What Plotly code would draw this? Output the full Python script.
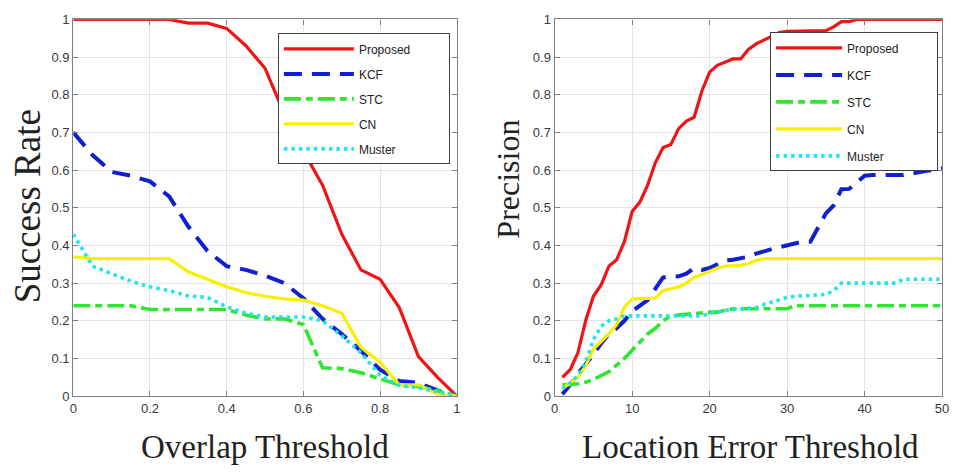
import plotly.graph_objects as go

# ---------------- data ----------------
series_names = ["Proposed", "KCF", "STC", "CN", "Muster"]

overlap_x = [0, 0.05, 0.1, 0.15, 0.2, 0.25, 0.3, 0.35, 0.4, 0.45, 0.5,
             0.55, 0.6, 0.65, 0.7, 0.75, 0.8, 0.85, 0.9, 0.95, 1.0]
sr_proposed = [1, 1, 1, 1, 1, 1, 0.99, 0.99, 0.976, 0.93, 0.87,
               0.75, 0.65, 0.56, 0.43, 0.335, 0.31, 0.235, 0.105, 0.05, 0]
sr_kcf = [0.70, 0.64, 0.595, 0.585, 0.57, 0.53, 0.45, 0.385, 0.345, 0.335, 0.32,
          0.30, 0.26, 0.205, 0.165, 0.12, 0.07, 0.04, 0.035, 0.015, 0]
sr_stc = [0.24, 0.24, 0.24, 0.24, 0.23, 0.23, 0.23, 0.23, 0.23, 0.215, 0.205,
          0.205, 0.19, 0.075, 0.073, 0.062, 0.045, 0.03, 0.025, 0.015, 0]
sr_cn = [0.37, 0.365, 0.365, 0.365, 0.365, 0.365, 0.33, 0.31, 0.29, 0.275, 0.265,
         0.258, 0.255, 0.24, 0.22, 0.13, 0.09, 0.03, 0.03, 0.005, 0]
sr_muster = [0.43, 0.345, 0.325, 0.305, 0.29, 0.28, 0.266, 0.262, 0.237, 0.22, 0.21,
             0.21, 0.21, 0.2, 0.16, 0.115, 0.055, 0.028, 0.022, 0.012, 0]

loc_x = list(range(1, 51))
pr_proposed = [0.05, 0.07, 0.115, 0.2, 0.265, 0.295, 0.345, 0.362, 0.41, 0.49,
               0.515, 0.56, 0.62, 0.66, 0.668, 0.71, 0.73, 0.74, 0.81, 0.86,
               0.878, 0.887, 0.895, 0.895, 0.92, 0.935, 0.945, 0.955, 0.965, 0.968,
               0.968, 0.968, 0.968, 0.968, 0.97, 0.98, 0.994, 0.994, 1, 1,
               1, 1, 1, 1, 1, 1, 1, 1, 1, 1]
pr_kcf = [0.005, 0.03, 0.06, 0.085, 0.11, 0.14, 0.165, 0.18, 0.2, 0.225,
          0.24, 0.255, 0.285, 0.315, 0.317, 0.318, 0.325, 0.34, 0.335, 0.34,
          0.35, 0.36, 0.362, 0.365, 0.37, 0.378, 0.385, 0.39, 0.395, 0.4,
          0.405, 0.41, 0.41, 0.45, 0.485, 0.506, 0.549, 0.55, 0.567, 0.585,
          0.587, 0.587, 0.587, 0.587, 0.587, 0.59, 0.595, 0.598, 0.6, 0.605]
pr_stc = [0.03, 0.03, 0.033, 0.037, 0.044, 0.055, 0.065, 0.082, 0.1, 0.122,
          0.145, 0.165, 0.18, 0.2, 0.213, 0.215, 0.218, 0.22, 0.222, 0.223,
          0.223, 0.228, 0.232, 0.232, 0.232, 0.232, 0.232, 0.232, 0.232, 0.232,
          0.24, 0.24, 0.24, 0.24, 0.24, 0.24, 0.24, 0.24, 0.24, 0.24,
          0.24, 0.24, 0.24, 0.24, 0.24, 0.24, 0.24, 0.24, 0.24, 0.24]
pr_cn = [0.02, 0.035, 0.05, 0.08, 0.125, 0.145, 0.165, 0.19, 0.236, 0.258,
         0.258, 0.258, 0.26, 0.28, 0.285, 0.29, 0.3, 0.315, 0.323, 0.332,
         0.34, 0.345, 0.346, 0.347, 0.352, 0.36, 0.365, 0.365, 0.365, 0.365,
         0.365, 0.365, 0.365, 0.365, 0.365, 0.365, 0.365, 0.365, 0.365, 0.365,
         0.365, 0.365, 0.365, 0.365, 0.365, 0.365, 0.365, 0.365, 0.365, 0.365]
pr_muster = [0.02, 0.035, 0.055, 0.09, 0.15, 0.185, 0.2, 0.205, 0.213, 0.213,
             0.213, 0.213, 0.213, 0.213, 0.213, 0.213, 0.213, 0.213, 0.213, 0.22,
             0.222, 0.228, 0.23, 0.232, 0.232, 0.235, 0.243, 0.25, 0.255, 0.262,
             0.265, 0.266, 0.267, 0.268, 0.27, 0.28, 0.3, 0.3, 0.3, 0.3,
             0.3, 0.3, 0.3, 0.3, 0.31, 0.31, 0.31, 0.31, 0.31, 0.31]

left_x_ticks = [0, 0.2, 0.4, 0.6, 0.8, 1]
left_x_ticklabels = ["0", "0.2", "0.4", "0.6", "0.8", "1"]
right_x_ticks = [0, 10, 20, 30, 40, 50]
y_ticks = [0, 0.1, 0.2, 0.3, 0.4, 0.5, 0.6, 0.7, 0.8, 0.9, 1]
y_ticklabels = ["0", "0.1", "0.2", "0.3", "0.4", "0.5", "0.6", "0.7", "0.8", "0.9", "1"]

# ---------------- layout helpers ----------------
W, H = 950, 459          # page body has an 8px margin -> 966x475 window
OFF = 8


def px(x):
    return (x - OFF) / W


def py(y):
    return 1 - (y - OFF) / H


styles = {
    "Proposed": dict(color="#f01414", width=3.2, dash="solid"),
    "KCF": dict(color="#1020d0", width=4, dash="18px,10px"),
    "STC": dict(color="#2fe62f", width=3.6, dash="17px,5px,7px,5px"),
    "CN": dict(color="#f8f000", width=3.2, dash="solid"),
    "Muster": dict(color="#22e4ee", width=3.6, dash="3.5px,4px"),
}
PAD = "\u00a0" * 10

fig = go.Figure()

left_data = [sr_proposed, sr_kcf, sr_stc, sr_cn, sr_muster]
right_data = [pr_proposed, pr_kcf, pr_stc, pr_cn, pr_muster]

for name, ys in zip(series_names, left_data):
    fig.add_trace(go.Scatter(x=overlap_x, y=ys, mode="lines", name=name + PAD,
                             line=styles[name], xaxis="x", yaxis="y",
                             legend="legend", legendgroup="L" + name))
for name, ys in zip(series_names, right_data):
    fig.add_trace(go.Scatter(x=loc_x, y=ys, mode="lines", name=name + PAD,
                             line=styles[name], xaxis="x2", yaxis="y2",
                             legend="legend2", legendgroup="R" + name))

axis_common = dict(
    showline=True, linecolor="#808080", linewidth=1.3, mirror="ticks",
    ticks="inside", ticklen=5, tickcolor="#808080", tickwidth=1,
    showgrid=True, gridcolor="#e4e4e4", gridwidth=1, zeroline=False,
    ticklabeloverflow="allow",
    tickfont=dict(family="Liberation Sans, Arial, sans-serif", size=13, color="#3a3a3a"),
)

ydom = [py(402), py(12.5)]
legend_font = dict(family="Liberation Sans, Arial, sans-serif", size=12, color="#222")
fig.update_layout(
    width=W, height=H,
    margin=dict(l=0, r=0, t=0, b=0),
    paper_bgcolor="white", plot_bgcolor="white",
    xaxis=dict(domain=[px(70), px(458)], range=[0, 1], tickvals=left_x_ticks,
               ticktext=left_x_ticklabels, anchor="y", **axis_common),
    yaxis=dict(domain=ydom, range=[0, 1], tickvals=y_ticks, ticktext=y_ticklabels,
               anchor="x", **axis_common),
    xaxis2=dict(domain=[px(557), px(949)], range=[0, 50], tickvals=right_x_ticks,
                anchor="y2", **axis_common),
    yaxis2=dict(domain=ydom, range=[0, 1], tickvals=y_ticks, ticktext=y_ticklabels,
                anchor="x2", **axis_common),
    legend=dict(x=px(277), y=py(27), xanchor="left", yanchor="top",
                bgcolor="white", bordercolor="#404040", borderwidth=1,
                font=legend_font, traceorder="grouped", tracegroupgap=6,
                itemwidth=70),
    legend2=dict(x=px(775), y=py(26), xanchor="left", yanchor="top",
                 bgcolor="white", bordercolor="#404040", borderwidth=1,
                 font=legend_font, traceorder="grouped", tracegroupgap=8,
                 itemwidth=66),
    showlegend=True,
)

serif = "Liberation Serif, Times New Roman, serif"
annots = [
    dict(text="Success Rate", x=24, y=206, textangle=-90, size=37),
    dict(text="Precision", x=510, y=178, textangle=-90, size=32),
    dict(text="Overlap Threshold", x=264, y=455, textangle=0, size=33),
    dict(text="Location Error Threshold", x=755, y=455, textangle=0, size=33),
]
for a in annots:
    fig.add_annotation(text=a["text"], x=px(a["x"]), y=py(a["y"]), xref="paper", yref="paper",
                       xanchor="center", yanchor="middle", textangle=a["textangle"],
                       showarrow=False, font=dict(family=serif, size=a["size"], color="#222"))

fig.write_html("out.html")
